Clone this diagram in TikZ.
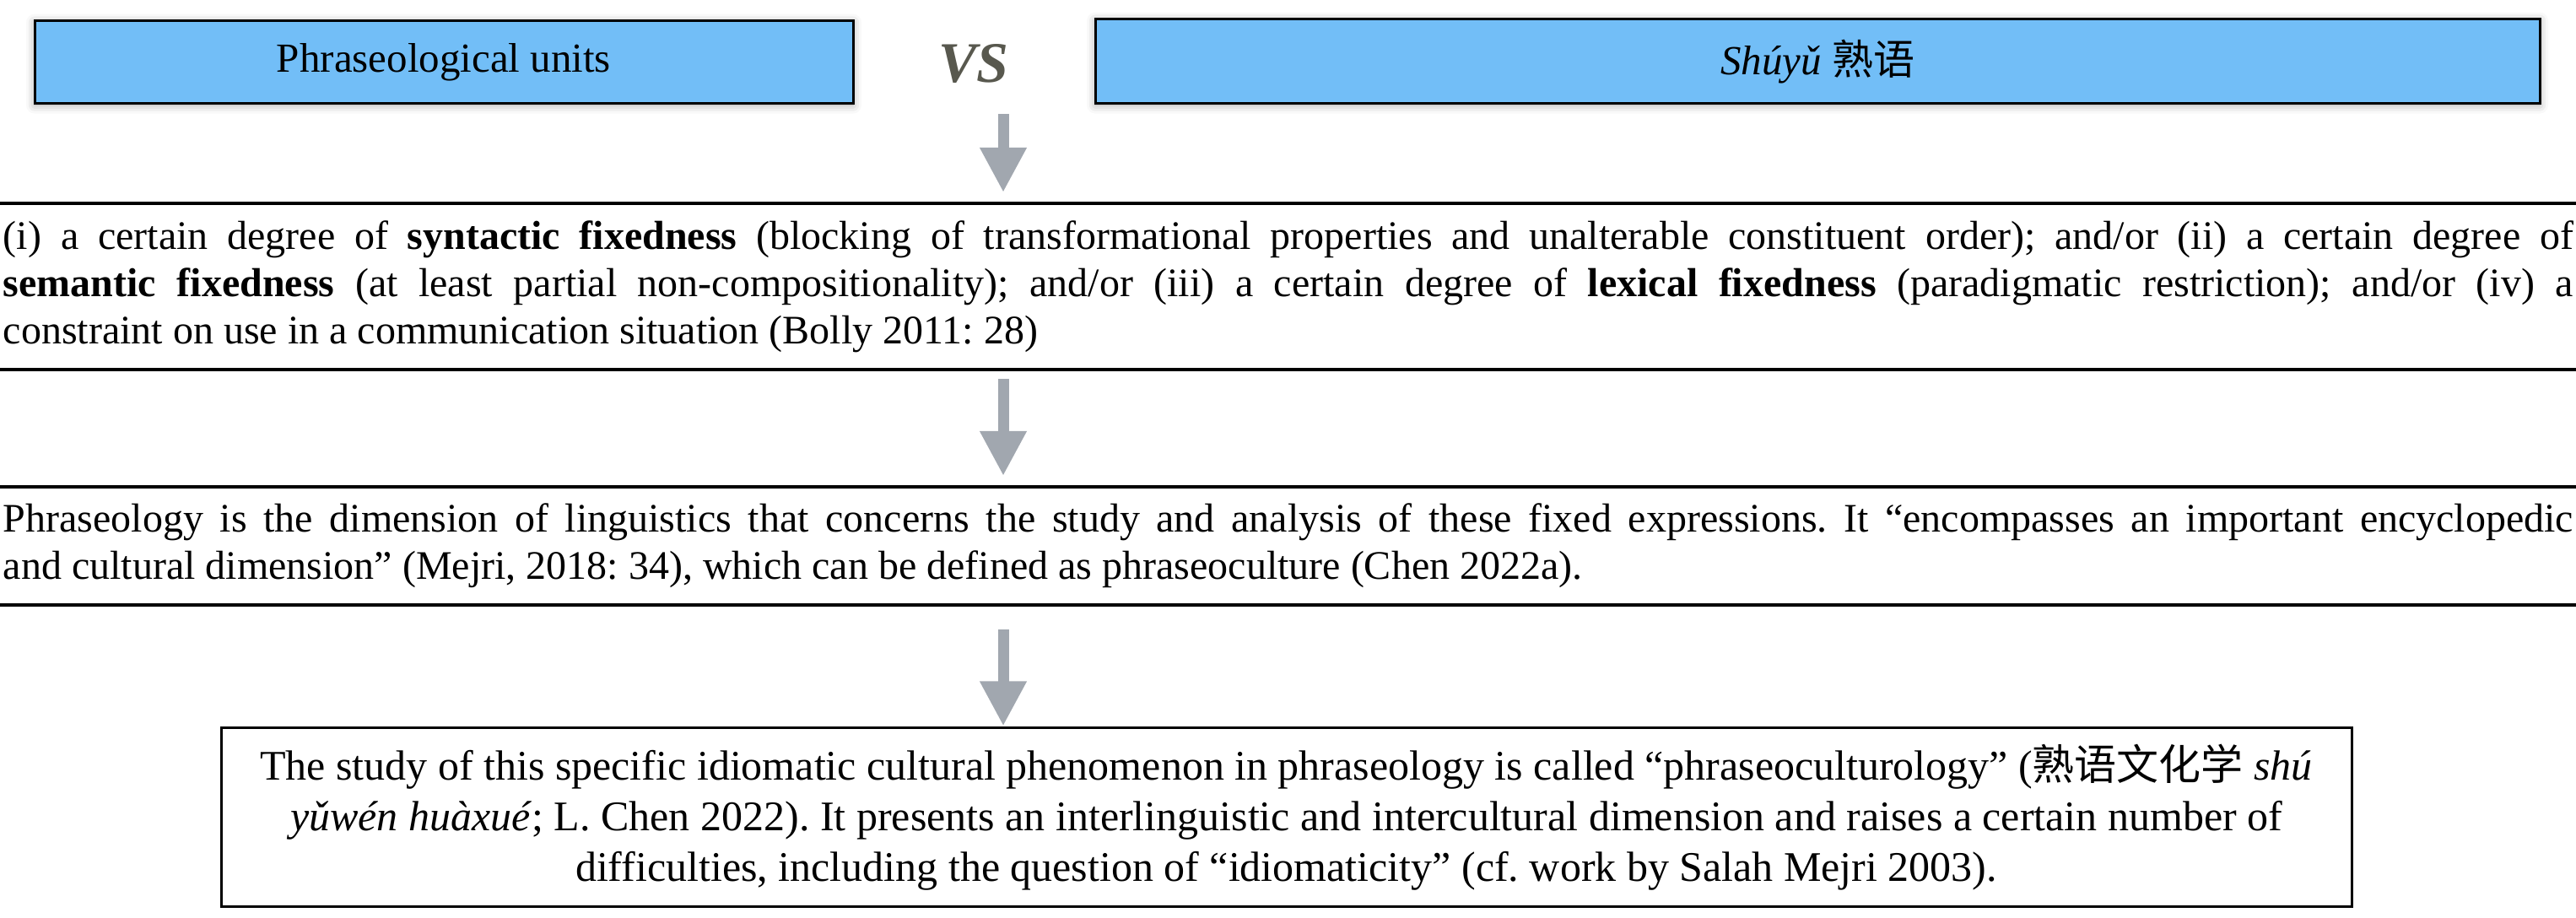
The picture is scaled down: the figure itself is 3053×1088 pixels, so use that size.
\documentclass[tikz,border=0pt]{standalone}
\usepackage{fontspec}
\setmainfont{Liberation Serif}
\newfontfamily\cjk{Noto Sans CJK SC}
\usetikzlibrary{arrows.meta,shadows.blur}
\definecolor{boxblue}{RGB}{114,190,247}
\definecolor{arrgray}{RGB}{161,167,175}
\definecolor{vsgray}{RGB}{88,88,78}
\frenchspacing
\tikzset{
  topbox/.style={draw=black, line width=0.75pt, fill=boxblue, inner sep=0pt,
    font=\fontsize{12.25}{14}\selectfont,
    blur shadow={shadow xshift=0pt, shadow yshift=-0.4pt, shadow blur radius=2.5pt, shadow opacity=35}},
  bandbox/.style={draw=black, line width=1pt, inner ysep=0pt, inner xsep=20pt,
    text width=761.5pt, align=justify, font=\fontsize{12}{14}\selectfont\frenchspacing},
  endbox/.style={draw=black, line width=0.75pt, inner sep=0pt, align=center,
    font=\fontsize{12.5}{15}\selectfont\frenchspacing},
  flow/.style={draw=arrgray, line width=3.25pt, -{Triangle[width=13pt,length=13.25pt]}, color=arrgray}
}
\begin{document}
\begin{tikzpicture}[x=0.25pt,y=-0.25pt]
\useasboundingbox (0,0) rectangle (3053,1088);
\node[topbox, minimum width=242.5pt, minimum height=24.5pt] (pu) at (526,74) {Phraseological units};
\node[topbox, minimum width=428pt, minimum height=25pt] (sy) at (2154,73) {\textit{Shúyǔ} {\cjk 熟语}};
\node[text=vsgray, font=\fontsize{17}{20}\selectfont\bfseries\itshape, inner sep=0pt] (vs) at (1154,76) {VS};
\node[bandbox, minimum height=49.25pt] (def) at (1527,339.5) {(i) a certain degree of \textbf{syntactic fixedness} (blocking of transformational properties and unalterable constituent order); and/or (ii) a certain degree of\linebreak \textbf{semantic fixedness} (at least partial non-compositionality); and/or (iii) a certain degree of \textbf{lexical fixedness} (paradigmatic restriction); and/or (iv) a\linebreak constraint on use in a communication situation (Bolly 2011: 28)};
\node[bandbox, minimum height=35pt] (phr) at (1527,647) {Phraseology is the dimension of linguistics that concerns the study and analysis of these fixed expressions. It “encompasses an important encyclopedic\linebreak and cultural dimension” (Mejri, 2018: 34), which can be defined as phraseoculture (Chen 2022a).};
\node[endbox, minimum width=631.25pt, minimum height=53pt] (stu) at (1524.5,969) {The study of this specific idiomatic cultural phenomenon in phraseology is called “phraseoculturology” ({\cjk 熟语文化学} \textit{shú}\\ \textit{yǔwén huàxué}; L. Chen 2022). It presents an interlinguistic and intercultural dimension and raises a certain number of\\ difficulties, including the question of “idiomaticity” (cf. work by Salah Mejri 2003).};
\coordinate (a1) at (1189,135);
\draw[flow, shorten >=2.75pt] (a1) -- (a1 |- def.north);
\draw[flow, shorten <=2.25pt, shorten >=2.75pt] (a1 |- def.south) -- (a1 |- phr.north);
\draw[flow, shorten <=6.75pt, shorten >=0.25pt] (a1 |- phr.south) -- (a1 |- stu.north);
\end{tikzpicture}
\end{document}
